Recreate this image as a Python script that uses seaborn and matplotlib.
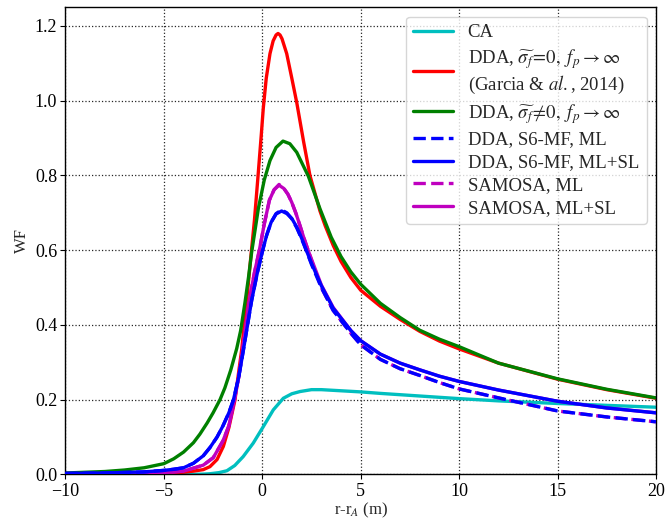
import matplotlib
matplotlib.use("Agg")
import matplotlib.pyplot as plt
import seaborn as sns
import numpy as np
import pandas as pd

# ---- data ----
ca_x = [-10, -4, -3, -2.66, -2.2, -1.8, -1.4, -0.97, -0.46, 0.05, 0.56, 1.07, 1.5, 1.92, 2.5, 3, 4, 5, 6, 8, 10, 12, 15, 17.5, 20]
ca_y = [0.0, 0.0, 0.001, 0.002, 0.005, 0.01, 0.024, 0.048, 0.084, 0.128, 0.173, 0.204, 0.216, 0.222, 0.227, 0.227, 0.224, 0.221, 0.217, 0.21, 0.203, 0.197, 0.19, 0.185, 0.18]

red_x = [-10, -8, -6, -5, -4, -3.5, -3, -2.66, -2.3, -1.98, -1.7, -1.39, -1.05, -0.79, -0.55, -0.4, -0.23, -0.05, 0.05, 0.2, 0.39, 0.55, 0.7, 0.8, 0.9, 1.0, 1.24, 1.5, 1.75, 2.1, 2.42, 2.93, 3.2, 3.61, 4.0, 4.5, 5, 6, 7, 8, 9, 10, 12, 15, 17.5, 20]
red_y = [0.002, 0.002, 0.003, 0.004, 0.006, 0.009, 0.013, 0.021, 0.04, 0.075, 0.125, 0.199, 0.333, 0.466, 0.6, 0.68, 0.79, 0.91, 0.98, 1.06, 1.126, 1.16, 1.176, 1.18, 1.176, 1.166, 1.126, 1.06, 0.995, 0.89, 0.8, 0.705, 0.665, 0.612, 0.57, 0.527, 0.493, 0.45, 0.415, 0.383, 0.357, 0.336, 0.298, 0.255, 0.227, 0.204]

green_x = [-10, -9, -8, -7, -6, -5, -4.5, -4, -3.5, -3.17, -2.8, -2.5, -2.15, -1.9, -1.6, -1.3, -1.1, -0.88, -0.7, -0.54, -0.35, -0.2, 0.1, 0.39, 0.7, 1.05, 1.4, 1.75, 2.34, 2.93, 3.5, 4, 4.5, 5, 6, 7, 8, 9, 10, 12, 15, 17.5, 20]
green_y = [0.004, 0.006, 0.008, 0.012, 0.018, 0.029, 0.042, 0.06, 0.085, 0.108, 0.138, 0.165, 0.2, 0.232, 0.28, 0.337, 0.385, 0.46, 0.528, 0.595, 0.66, 0.712, 0.788, 0.84, 0.875, 0.892, 0.885, 0.862, 0.798, 0.711, 0.635, 0.583, 0.542, 0.509, 0.458, 0.42, 0.386, 0.362, 0.342, 0.298, 0.256, 0.228, 0.205]

bml_x = [-10, -8, -6, -5, -4.5, -4, -3.5, -3, -2.66, -2.3, -2, -1.7, -1.47, -1.2, -0.96, -0.75, -0.54, -0.25, 0.02, 0.22, 0.45, 0.7, 0.98, 1.25, 1.5, 1.75, 2.0, 2.25, 2.5, 3, 3.6, 4.5, 5, 6, 7, 8, 9, 10, 12, 15, 17.5, 20]
bml_y = [0.003, 0.004, 0.007, 0.011, 0.014, 0.018, 0.03, 0.05, 0.072, 0.1, 0.13, 0.165, 0.199, 0.26, 0.333, 0.4, 0.466, 0.54, 0.6, 0.64, 0.675, 0.698, 0.708, 0.7, 0.684, 0.66, 0.63, 0.597, 0.562, 0.5, 0.439, 0.378, 0.347, 0.308, 0.283, 0.265, 0.246, 0.229, 0.205, 0.17, 0.154, 0.141]

bmlsl_x = [-10, -8, -6, -5, -4.5, -4, -3.5, -3, -2.66, -2.3, -2, -1.7, -1.47, -1.2, -0.96, -0.75, -0.54, -0.25, 0.02, 0.22, 0.45, 0.7, 0.98, 1.25, 1.5, 1.75, 2.0, 2.25, 2.5, 3, 3.6, 4.5, 5, 6, 7, 8, 9, 10, 12, 15, 17.5, 20]
bmlsl_y = [0.003, 0.004, 0.007, 0.011, 0.014, 0.018, 0.03, 0.05, 0.072, 0.1, 0.13, 0.165, 0.199, 0.26, 0.333, 0.4, 0.466, 0.54, 0.6, 0.64, 0.675, 0.697, 0.705, 0.698, 0.685, 0.662, 0.632, 0.598, 0.565, 0.505, 0.445, 0.385, 0.358, 0.322, 0.298, 0.28, 0.263, 0.249, 0.226, 0.196, 0.178, 0.165]

sml_x = [-10, -6, -5, -4, -3, -2.49, -2, -1.7, -1.42, -1.2, -1.0, -0.66, -0.4, -0.15, 0.1, 0.36, 0.6, 0.85, 1.1, 1.3, 1.49, 1.7, 1.92, 2.1, 2.34, 2.6, 3, 3.6, 4.5, 5, 6, 7, 8, 9, 10, 12, 15, 17.5, 20]
sml_y = [0.002, 0.003, 0.005, 0.009, 0.025, 0.045, 0.09, 0.13, 0.199, 0.26, 0.333, 0.466, 0.54, 0.6, 0.67, 0.734, 0.762, 0.776, 0.765, 0.75, 0.729, 0.7, 0.665, 0.635, 0.598, 0.558, 0.5, 0.439, 0.378, 0.347, 0.308, 0.283, 0.265, 0.246, 0.229, 0.205, 0.17, 0.154, 0.141]

smlsl_x = [-10, -6, -5, -4, -3, -2.49, -2, -1.7, -1.42, -1.2, -1.0, -0.66, -0.4, -0.15, 0.1, 0.36, 0.6, 0.85, 1.1, 1.3, 1.49, 1.7, 1.92, 2.1, 2.34, 2.6, 3, 3.6, 4.5, 5, 6, 7, 8, 9, 10, 12, 15, 17.5, 20]
smlsl_y = [0.002, 0.003, 0.005, 0.009, 0.025, 0.045, 0.09, 0.13, 0.199, 0.26, 0.333, 0.466, 0.54, 0.6, 0.67, 0.734, 0.762, 0.774, 0.765, 0.75, 0.729, 0.7, 0.665, 0.635, 0.598, 0.562, 0.507, 0.447, 0.385, 0.358, 0.322, 0.298, 0.28, 0.263, 0.249, 0.226, 0.196, 0.178, 0.165]

labels = [
    "CA",
    "DDA, $\\widetilde{\\sigma_f}\\!=\\!0,\\ f_p\\rightarrow\\infty$\n(Garcia & $al.$, 2014)",
    "DDA, $\\widetilde{\\sigma_f}\\!\\neq\\!0,\\ f_p\\rightarrow\\infty$",
    "DDA, S6-MF, ML",
    "DDA, S6-MF, ML+SL",
    "SAMOSA, ML",
    "SAMOSA, ML+SL",
]
x_ticks = [-10, -5, 0, 5, 10, 15, 20]
y_ticks = [0.0, 0.2, 0.4, 0.6, 0.8, 1.0, 1.2]

# ---- style ----
sns.set_theme(style="ticks")
plt.rcParams.update({
    "font.family": ["Liberation Serif", "DejaVu Serif"],
    "mathtext.fontset": "stix",
    "axes.edgecolor": "black",
    "axes.linewidth": 1.0,
    "xtick.color": "black",
    "ytick.color": "black",
})

fig = plt.figure(figsize=(6.68, 5.22), dpi=100)
ax = fig.add_axes([0.098, 0.091, 0.884, 0.895])

series = [
    (ca_x, ca_y, "#00BFBF", "-", 2),
    (red_x, red_y, "#FF0000", "-", 2),
    (green_x, green_y, "#008000", "-", 2),
    (bml_x, bml_y, "#0000FF", "--", 4),
    (bmlsl_x, bmlsl_y, "#0000FF", "-", 4),
    (sml_x, sml_y, "#BF00BF", "--", 3),
    (smlsl_x, smlsl_y, "#BF00BF", "-", 3),
]
for (xs, ys, col, ls, z), lab in zip(series, labels):
    sns.lineplot(x=xs, y=ys, ax=ax, color=col, linestyle=ls, linewidth=2.4,
                 label=lab, zorder=z, sort=False, estimator=None)

ax.set_xlim(-10, 20)
ax.set_ylim(0, 1.25)
ax.set_xticks(x_ticks)
ax.set_yticks(y_ticks)
ax.set_yticklabels([f"{v:.1f}" for v in y_ticks])
ax.tick_params(axis="both", labelsize=13, direction="out", length=3.5, width=0.8, pad=2.5)
ax.grid(True, linestyle=":", color="0.15", linewidth=0.9)
ax.set_xlabel("r-r$_A$ (m)", fontsize=12, labelpad=1)
ax.set_ylabel("WF", fontsize=12, labelpad=3)

leg = ax.legend(loc="upper right", fontsize=13.5, handlelength=2.1,
                frameon=True, fancybox=True, edgecolor="0.8", framealpha=0.8,
                labelspacing=0.3, borderpad=0.4)

fig.savefig("out.png", dpi=100)
